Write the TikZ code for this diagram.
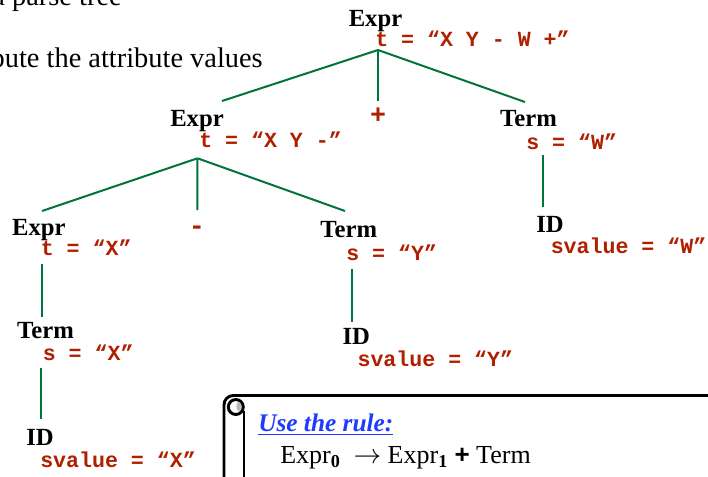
\documentclass[tikz,border=0pt]{standalone}
\usepackage{fontspec}
\setmainfont{Liberation Serif}
\setsansfont{Liberation Sans}
\setmonofont{Liberation Mono}
\usetikzlibrary{positioning}
\definecolor{treegreen}{HTML}{00743C}
\definecolor{attrred}{HTML}{B02000}
\definecolor{ruleblue}{HTML}{1F3BFF}

\begin{document}
\begin{tikzpicture}[
    x=0.75pt, y=-0.75pt,
    sym/.style={font=\fontsize{18.5}{20}\selectfont\bfseries, inner sep=0pt, anchor=base},
    attr/.style={font=\fontsize{16.2}{18}\selectfont\ttfamily\bfseries, text=attrred, inner sep=0pt, anchor=base west},
    op/.style={font=\fontsize{20}{22}\selectfont\ttfamily\bfseries, text=attrred, inner sep=0pt},
    desc/.style={font=\fontsize{21.3}{23}\selectfont, inner sep=0pt, anchor=base east},
    edge/.style={treegreen, line width=1.5pt},
    scrollline/.style={black, line width=2.2pt}
]
    % Page frame (parts of the slide run off its edges)
    \clip (0,0) rectangle (708,476);
    \fill[white] (0,0) rectangle (708,476);

    % Slide text, cut at the left and top
    \node[desc] (step1) at (122,5) {a parse tree};
    \node[desc] (step2) at (263,67) {compute the attribute values};

    % Root: Expr -> Expr + Term
    \node[sym] (e0) at (375.5,26) {Expr};
    \node[attr] (t0) at (375,46.5) {t = “X Y - W +”};
    \coordinate (j0) at (378,50);

    % Left child: Expr -> Expr - Term
    \node[sym] (e1) at (197,126) {Expr};
    \node[attr] (t1) at (199,147.3) {t = “X Y -”};
    \coordinate (e1in) at (222,101);
    \coordinate (j1) at (197.5,158.3);

    % Operator +
    \node[op] (plus) at (378,116) {+};
    \coordinate (plusin) at (378,101);

    % Right child: Term -> ID
    \node[sym] (m0) at (528.5,126.7) {Term};
    \node[attr] (s0) at (526,149.3) {s = “W”};
    \coordinate (m0in) at (525,102);
    \coordinate (m0out) at (543.3,154.5);
    \node[sym] (id0) at (550,232.3) {ID};
    \node[attr] (v0) at (550.5,253.3) {svalue = “W”};
    \coordinate (id0in) at (543.3,206.5);

    % Expr -> Term -> ID  (leftmost branch)
    \node[sym] (e2) at (38.8,235) {Expr};
    \node[attr] (t2) at (40.5,255) {t = “X”};
    \coordinate (e2in) at (42,211);
    \coordinate (e2out) at (42.3,264);
    \node[sym] (m1) at (45.5,338) {Term};
    \node[attr] (s1) at (42.5,360) {s = “X”};
    \coordinate (m1in) at (42.3,316.7);
    \coordinate (m1out) at (40.7,367.7);
    \node[sym] (id1) at (40,445) {ID};
    \node[attr] (v1) at (40,467.3) {svalue = “X”};
    \coordinate (id1in) at (40.7,419.3);

    % Operator -
    \node[op] (minus) at (197,230) {-};
    \coordinate (minusin) at (197.3,210);

    % Term -> ID  (middle branch)
    \node[sym] (m2) at (348.8,237.3) {Term};
    \node[attr] (s2) at (346,260.7) {s = “Y”};
    \coordinate (m2in) at (345,211);
    \coordinate (m2out) at (352.3,269);
    \node[sym] (id2) at (356.3,344) {ID};
    \node[attr] (v2) at (357.3,366.7) {svalue = “Y”};
    \coordinate (id2in) at (352.3,321.7);

    % Tree edges
    \draw[edge] (j0) -- (e1in);
    \draw[edge] (j0) -- (plusin);
    \draw[edge] (j0) -- (m0in);
    \draw[edge] (j1) -- (e2in);
    \draw[edge] (j1) -- (minusin);
    \draw[edge] (j1) -- (m2in);
    \draw[edge] (e2out) -- (m1in);
    \draw[edge] (m1out) -- (id1in);
    \draw[edge] (m2out) -- (id2in);
    \draw[edge] (m0out) -- (id0in);

    % Scroll with the rule
    \draw[scrollline, rounded corners=7pt] (224,480) -- (224,395.5) -- (712,395.5);
    \draw[scrollline] (244,480) -- (244,411);
    \draw[scrollline] (235.8,407) circle[radius=5.6pt];
    \fill[gray!55] (238.8,406.5) ellipse[x radius=1.8pt, y radius=3.4pt];

    \node[font=\fontsize{19}{21}\selectfont\bfseries\itshape, text=ruleblue, inner sep=0pt, anchor=base west]
        (head) at (258,431.7) {\underline{Use the rule:}};
    \node[font=\fontsize{19.5}{22}\selectfont, inner sep=0pt, anchor=base west]
        (rule) at (280,463.3) {Expr\textsubscript{\textbf{0}}\ \ $\rightarrow$ Expr\textsubscript{\textbf{1}} {\sffamily\bfseries +} Term};
\end{tikzpicture}
\end{document}
